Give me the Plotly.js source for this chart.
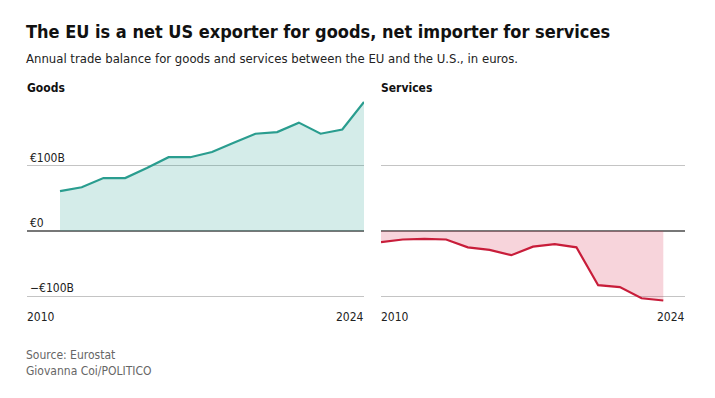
<!DOCTYPE html>
<html>
<head>
<meta charset="utf-8">
<script src="https://cdn.plot.ly/plotly-3.0.1.min.js"></script>
<style>
html,body{margin:0;padding:0;background:#fff;}
#chart{width:715px;height:398px;}
</style>
</head>
<body>
<div id="chart"></div>
<script>
// Data (billions of euros)
const goodsYears = [2010,2011,2012,2013,2014,2015,2016,2017,2018,2019,2020,2021,2022,2023,2024];
const goodsBalance = [61,67,81,81,96.5,113,113,121,135,149,151.5,166,149,155.5,197.5];
const servicesYears = [2010,2011,2012,2013,2014,2015,2016,2017,2018,2019,2020,2021,2022,2023];
const servicesBalance = [-17,-13,-12,-13,-25,-29,-37,-24,-20,-25,-83,-86,-103,-106.5];
const yTickVals = [-100,0,100];
const yTickText = ['\u2212\u20ac100B','\u20ac0','\u20ac100B'];
const axisYearLabels = ['2010','2024'];

const FONT = '"DejaVu Sans Condensed","Liberation Sans Narrow","Arial Narrow",sans-serif';
const TOP = 95, BOTTOM = 95;

const traces = [
  {x: goodsYears, y: goodsBalance, type:'scatter', mode:'lines', fill:'tozeroy',
   fillcolor:'rgba(42,160,145,0.2)', line:{color:'#2a9d8f', width:2.2},
   xaxis:'x', yaxis:'y', hoverinfo:'skip', showlegend:false},
  {x: servicesYears, y: servicesBalance, type:'scatter', mode:'lines', fill:'tozeroy',
   fillcolor:'rgba(220,60,90,0.22)', line:{color:'#c81d3a', width:2.2},
   xaxis:'x2', yaxis:'y2', hoverinfo:'skip', showlegend:false}
];

const yRange = [-110.3, 208.3];
const yBase = {range:yRange, tickvals:yTickVals, gridcolor:'#c4c4c4', gridwidth:1.2,
  zeroline:true, zerolinecolor:'#777', zerolinewidth:1.8, showline:false, ticks:'',
  fixedrange:true};

const layout = {
  width:715, height:398,
  margin:{l:0, r:0, t:TOP, b:BOTTOM},
  paper_bgcolor:'#fff', plot_bgcolor:'#fff',
  font:{family:FONT, color:'#222', size:12},
  xaxis:{domain:[27/715, 364/715], range:[2008.48, 2024], showgrid:false, zeroline:false,
    showticklabels:false, ticks:'', showline:false},
  xaxis2:{domain:[381/715, 685/715], range:[2010, 2024], showgrid:false, zeroline:false,
    showticklabels:false, ticks:'', showline:false, anchor:'y2'},
  yaxis:Object.assign({}, yBase, {ticktext:yTickText, showticklabels:true,
    ticklabelposition:'inside top', ticklabelstandoff:0,
    tickfont:{family:FONT, size:12, color:'#222'}, anchor:'x'}),
  yaxis2:Object.assign({}, yBase, {showticklabels:false, anchor:'x2'}),
  annotations:[
    {xref:'paper', yref:'paper', x:26/715, xshift:-2, y:1, yshift:TOP-19, xanchor:'left', yanchor:'top',
     text:'<b>The EU is a net US exporter for goods, net importer for services</b>',
     showarrow:false, font:{family:FONT, size:18, color:'#111'}},
    {xref:'paper', yref:'paper', x:26/715, xshift:-2, y:1, yshift:TOP-49, xanchor:'left', yanchor:'top',
     text:'Annual trade balance for goods and services between the EU and the U.S., in euros.',
     showarrow:false, font:{family:FONT, size:13, color:'#222'}},
    {xref:'x domain', yref:'paper', x:0, xshift:-2, y:1, yshift:TOP-79, xanchor:'left', yanchor:'top',
     text:'<b>Goods</b>', showarrow:false, font:{family:FONT, size:12, color:'#111'}},
    {xref:'x2 domain', yref:'paper', x:0, xshift:-2, y:1, yshift:TOP-79, xanchor:'left', yanchor:'top',
     text:'<b>Services</b>', showarrow:false, font:{family:FONT, size:12, color:'#111'}},
    {xref:'x domain', yref:'paper', x:0, xshift:-2, y:0, yshift:-5, xanchor:'left', yanchor:'top',
     text:axisYearLabels[0], showarrow:false, font:{family:FONT, size:12, color:'#222'}},
    {xref:'x domain', yref:'paper', x:1, xshift:2, y:0, yshift:-5, xanchor:'right', yanchor:'top',
     text:axisYearLabels[1], showarrow:false, font:{family:FONT, size:12, color:'#222'}},
    {xref:'x2 domain', yref:'paper', x:0, xshift:-2, y:0, yshift:-5, xanchor:'left', yanchor:'top',
     text:axisYearLabels[0], showarrow:false, font:{family:FONT, size:12, color:'#222'}},
    {xref:'x2 domain', yref:'paper', x:1, xshift:2, y:0, yshift:-5, xanchor:'right', yanchor:'top',
     text:axisYearLabels[1], showarrow:false, font:{family:FONT, size:12, color:'#222'}},
    {xref:'paper', yref:'paper', x:26/715, xshift:-2, y:0, yshift:-43, xanchor:'left', yanchor:'top',
     text:'Source: Eurostat<br>Giovanna Coi/POLITICO', align:'left', showarrow:false,
     font:{family:FONT, size:12, color:'#666'}}
  ]
};

Plotly.newPlot('chart', traces, layout, {staticPlot:true, displayModeBar:false});
</script>
</body>
</html>
